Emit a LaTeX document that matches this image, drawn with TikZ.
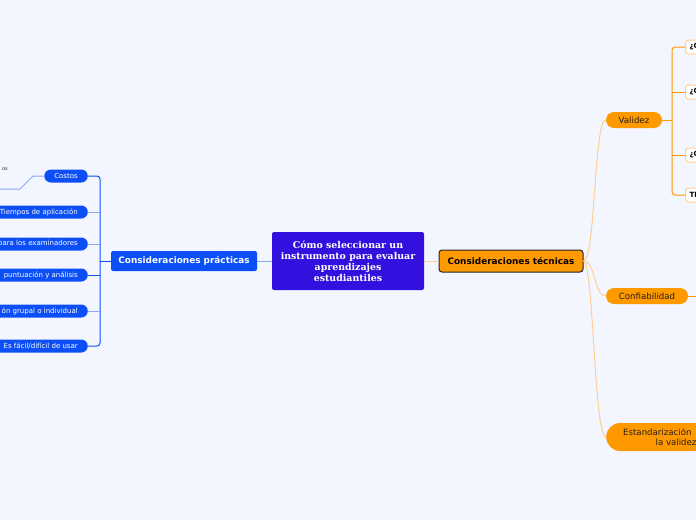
\documentclass[tikz,border=0pt]{standalone}
\usepackage{fontspec}
\setmainfont{DejaVu Sans}
\newfontfamily\serifbf{DejaVu Serif}
\definecolor{bgc}{RGB}{243,246,254}
\definecolor{cen}{RGB}{52,16,222}
\definecolor{blu}{RGB}{13,79,247}
\definecolor{blult}{RGB}{140,168,246}
\definecolor{org}{RGB}{255,153,0}
\definecolor{orglt}{RGB}{255,206,150}
\definecolor{otxt}{RGB}{40,30,20}
\tikzset{
  central/.style={fill=cen, rounded corners=2pt, minimum width=152pt, minimum height=58pt, text=white, font=\serifbf\bfseries\fontsize{9.4}{11}\selectfont, align=center, inner sep=0pt},
  mainblue/.style={fill=blu, rounded corners=2pt, minimum width=146pt, minimum height=20pt, text=white, font=\bfseries\fontsize{8.9}{10}\selectfont, inner sep=0pt},
  mainorange/.style={fill=org, draw=black!85, line width=1pt, rounded corners=3pt, minimum width=144pt, minimum height=22pt, font=\bfseries\fontsize{8.9}{10}\selectfont, inner sep=0pt},
  bpill/.style={fill=blu, rounded corners=6.5pt, minimum height=13pt, inner xsep=10pt, inner ysep=0pt, text=white, font=\fontsize{7}{8}\selectfont, anchor=east},
  opill/.style={fill=org, rounded corners=8pt, minimum height=16pt, inner sep=0pt, text=otxt, font=\fontsize{8.6}{10}\selectfont},
  wbox/.style={fill=white, draw=orglt, line width=1pt, rounded corners=3pt, minimum height=14pt, text width=22pt, inner xsep=4pt, inner ysep=0pt, align=left, anchor=west, font=\bfseries\fontsize{7.2}{8}\selectfont},
  bline/.style={draw=blu, line width=1pt},
  blline/.style={draw=blult, line width=1pt},
  oline/.style={draw=org, line width=1pt},
  olline/.style={draw=orglt, line width=1pt},
}
\begin{document}
\begin{tikzpicture}[x=1pt,y=-1pt]
\fill[bgc] (0,0) rectangle (696,520);
\useasboundingbox (0,0) rectangle (696,520);
\clip (0,0) rectangle (696,520);

% central and main topics
\node[central] (cen) at (348,261) {Cómo seleccionar un\\instrumento para evaluar\\aprendizajes\\estudiantiles};
\node[mainblue] (prac) at (184,261) {Consideraciones prácticas};
\node[mainorange] (tec) at (511,261) {Consideraciones técnicas};

\draw[blline] (cen.west) -- (prac.east);
\draw[olline] (cen.east) -- (tec.west);

% practical children
\node[bpill] (costos) at (88,176) {Costos};
\node[bpill] (tiempos) at (88,212) {Tiempos de aplicación};
\node[bpill] (exam) at (88,244) {para los examinadores};
\node[bpill] (punt) at (88,275) {puntuación y análisis};
\node[bpill] (grupal) at (88,311) {ón grupal o individual};
\node[bpill] (usar) at (88,346) {Es fácil/difícil de usar};

\coordinate (bj) at (100,261);
\draw[bline] (prac.west) -- (bj);
\draw[bline, rounded corners=3pt] (bj) |- (costos.east);
\draw[bline, rounded corners=3pt] (bj) |- (usar.east);
\draw[blline] (bj |- tiempos.east) -- (tiempos.east);
\draw[blline] (bj |- exam.east) -- (exam.east);
\draw[bline] (bj |- punt.east) -- (punt.east);
\draw[blline] (bj |- grupal.east) -- (grupal.east);

\node[font=\fontsize{5}{6}\selectfont, text=black!80, anchor=east, inner sep=0pt] (os) at (8,169) {os};
\coordinate (cc) at (-5,189);
\draw[blline] (costos.west) -- (33,176) -- (20,189) -- (cc);

% technical children
\node[opill, minimum width=56pt] (val) at (634,120) {Validez};
\node[opill, minimum width=82pt] (conf) at (647,296) {Confiabilidad};
\node[fill=org, rounded corners=14pt, minimum height=28pt, inner xsep=17pt, inner ysep=0pt, text=otxt, align=right, anchor=west, font=\fontsize{8.6}{10}\selectfont] (est) at (606,437) {Estandarización\\la validez\kern-5pt};

\draw[olline] (tec.east) .. controls ([xshift=12pt]tec.east) and ([xshift=-12pt]val.west) .. (val.west);
\draw[olline] (tec.east) .. controls ([xshift=12pt]tec.east) and ([xshift=-12pt]conf.west) .. (conf.west);
\draw[olline] (tec.east) .. controls ([xshift=10pt]tec.east) and ([xshift=-12pt]est.west) .. (est.west);

\coordinate (cfo) at (700,296);
\draw[oline] (conf.east) -- (cfo);

% validez children
\node[wbox] (v1) at (685,47) {¿C};
\node[wbox] (v2) at (685,92) {¿C};
\node[wbox] (v3) at (685,155) {¿C};
\node[wbox] (v4) at (685,195) {TI};
\coordinate (vj) at (672,120);
\draw[oline] (val.east) -- (vj);
\draw[oline, rounded corners=3pt] (vj) |- (v1.west);
\draw[oline, rounded corners=3pt] (vj) |- (v4.west);
\draw[oline] (vj |- v2.west) -- (v2.west);
\draw[oline] (vj |- v3.west) -- (v3.west);
\end{tikzpicture}
\end{document}
